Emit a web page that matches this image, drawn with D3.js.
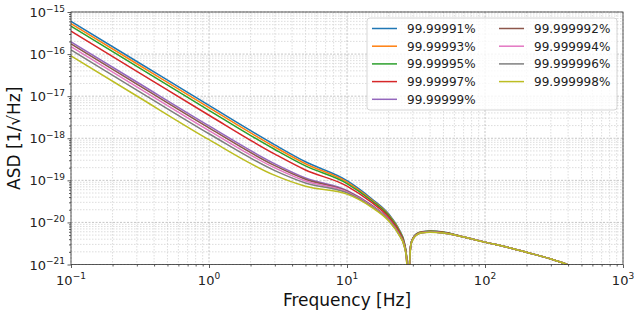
<!DOCTYPE html>
<html lang="en">
<head>
  <meta charset="UTF-8">
  <title>ASD vs Frequency</title>
  <script src="https://d3js.org/d3.v7.min.js"></script>
  <style>
    body { margin: 0; background: #fff; }
    svg { display: block; font-family: "DejaVu Sans", sans-serif; }
  </style>
</head>
<body>
  <div id="chart"></div>

  <script>
    // Data
    const freqs = [0.1, 0.3, 1, 3, 5, 10, 15, 20, 24, 26, 27, 27.8, 28.5, 29, 30, 32, 35, 40, 50, 70, 100, 150, 200, 300, 400, 600];

    const labels = ['99.99991%', '99.99993%', '99.99995%', '99.99997%', '99.99999%',
                    '99.999992%', '99.999994%', '99.999996%', '99.999998%'];

    const r91 = [6.0e-16, 6.67e-17, 6.02e-18, 6.97e-19, 2.76e-19, 9.8e-20, 3.70e-20, 1.6e-20, 6.58e-21, 3.40e-21, 1.63e-21, 1.5e-22, 1.40e-21, 3.02e-21, 4.20e-21, 5.39e-21, 6.04e-21, 6.25e-21, 5.93e-21, 4.5e-21, 3.4e-21, 2.5e-21, 1.95e-21, 1.35e-21, 9.8e-22, 5e-22];
    const r93 = [5.3e-16, 5.89e-17, 5.32e-18, 6.19e-19, 2.48e-19, 9.1e-20, 3.50e-20, 1.53e-20, 6.34e-21, 3.30e-21, 1.59e-21, 1.5e-22, 1.39e-21, 2.99e-21, 4.17e-21, 5.35e-21, 5.99e-21, 6.20e-21, 5.88e-21, 4.5e-21, 3.4e-21, 2.5e-21, 1.95e-21, 1.35e-21, 9.8e-22, 5e-22];
    const r95 = [4.6e-16, 5.11e-17, 4.62e-18, 5.41e-19, 2.20e-19, 8.4e-20, 3.32e-20, 1.46e-20, 6.10e-21, 3.21e-21, 1.55e-21, 1.5e-22, 1.38e-21, 2.97e-21, 4.13e-21, 5.30e-21, 5.94e-21, 6.15e-21, 5.83e-21, 4.5e-21, 3.4e-21, 2.5e-21, 1.95e-21, 1.35e-21, 9.8e-22, 5e-22];
    const r97 = [3.5e-16, 3.89e-17, 3.52e-18, 4.19e-19, 1.76e-19, 7.3e-20, 3.02e-20, 1.35e-20, 5.71e-21, 3.07e-21, 1.49e-21, 1.5e-22, 1.36e-21, 2.93e-21, 4.08e-21, 5.23e-21, 5.86e-21, 6.07e-21, 5.75e-21, 4.5e-21, 3.4e-21, 2.5e-21, 1.95e-21, 1.35e-21, 9.8e-22, 5e-22];
    const r99 = [1.95e-16, 2.17e-17, 1.97e-18, 2.47e-19, 1.14e-19, 5.75e-20, 2.60e-20, 1.20e-20, 5.18e-21, 2.86e-21, 1.41e-21, 1.5e-22, 1.33e-21, 2.87e-21, 4.00e-21, 5.13e-21, 5.74e-21, 5.95e-21, 5.64e-21, 4.5e-21, 3.4e-21, 2.5e-21, 1.95e-21, 1.35e-21, 9.8e-22, 5e-22];
    const r992 = [1.74e-16, 1.93e-17, 1.76e-18, 2.23e-19, 1.06e-19, 5.54e-20, 2.55e-20, 1.17e-20, 5.10e-21, 2.83e-21, 1.40e-21, 1.5e-22, 1.33e-21, 2.86e-21, 3.99e-21, 5.12e-21, 5.73e-21, 5.93e-21, 5.63e-21, 4.5e-21, 3.4e-21, 2.5e-21, 1.95e-21, 1.35e-21, 9.8e-22, 5e-22];
    const r994 = [1.5e-16, 1.67e-17, 1.52e-18, 1.97e-19, 9.6e-20, 5.3e-20, 2.48e-20, 1.15e-20, 5.02e-21, 2.80e-21, 1.38e-21, 1.5e-22, 1.33e-21, 2.86e-21, 3.98e-21, 5.10e-21, 5.71e-21, 5.92e-21, 5.61e-21, 4.5e-21, 3.4e-21, 2.5e-21, 1.95e-21, 1.35e-21, 9.8e-22, 5e-22];
    const r996 = [1.26e-16, 1.40e-17, 1.28e-18, 1.70e-19, 8.64e-20, 5.06e-20, 2.42e-20, 1.13e-20, 4.94e-21, 2.77e-21, 1.37e-21, 1.5e-22, 1.32e-21, 2.84e-21, 3.96e-21, 5.08e-21, 5.69e-21, 5.89e-21, 5.59e-21, 4.5e-21, 3.4e-21, 2.5e-21, 1.95e-21, 1.35e-21, 9.8e-22, 5e-22];
    const r998 = [9.1e-17, 1.01e-17, 9.25e-19, 1.31e-19, 7.24e-20, 4.71e-20, 2.32e-20, 1.09e-20, 4.82e-21, 2.72e-21, 1.35e-21, 1.5e-22, 1.32e-21, 2.83e-21, 3.95e-21, 5.06e-21, 5.67e-21, 5.87e-21, 5.57e-21, 4.5e-21, 3.4e-21, 2.5e-21, 1.95e-21, 1.35e-21, 9.8e-22, 5e-22];

    const seriesValues = [r91, r93, r95, r97, r99, r992, r994, r996, r998];
    const colors = ['#1f77b4', '#ff7f0e', '#2ca02c', '#d62728', '#9467bd',
                    '#8c564b', '#e377c2', '#7f7f7f', '#bcbd22'];

    const xExps = [-1, 0, 1, 2, 3];
    const yExps = [-21, -20, -19, -18, -17, -16, -15];

    // Dimensions
    const width = 634, height = 317;
    const margin = { top: 12, right: 11, bottom: 52.5, left: 71 };
    const innerWidth = width - margin.left - margin.right;
    const innerHeight = height - margin.top - margin.bottom;

    const svg = d3.select('#chart').append('svg')
      .attr('width', width)
      .attr('height', height);

    const g = svg.append('g')
      .attr('transform', `translate(${margin.left},${margin.top})`);

    const x = d3.scaleLog().domain([1e-1, 1e3]).range([0, innerWidth]);
    const y = d3.scaleLog().domain([1e-21, 1e-15]).range([innerHeight, 0]);

    // minor tick values
    const minors = (lo, hi) => {
      const out = [];
      for (let e = lo; e < hi; e++) {
        for (let k = 2; k <= 9; k++) out.push(k * Math.pow(10, e));
      }
      return out;
    };
    const xMinor = minors(-1, 3);
    const yMinor = minors(-21, -15);
    const xMajor = xExps.map(e => Math.pow(10, e));
    const yMajor = yExps.map(e => Math.pow(10, e));

    // Grid
    const grid = g.append('g');
    grid.selectAll('.vmin').data(xMinor).join('line')
      .attr('x1', d => x(d)).attr('x2', d => x(d))
      .attr('y1', 0).attr('y2', innerHeight)
      .attr('stroke', '#d4d4d4').attr('stroke-width', 0.8).attr('stroke-dasharray', '1.5,1.5');
    grid.selectAll('.hmin').data(yMinor).join('line')
      .attr('x1', 0).attr('x2', innerWidth)
      .attr('y1', d => y(d)).attr('y2', d => y(d))
      .attr('stroke', '#d4d4d4').attr('stroke-width', 0.8).attr('stroke-dasharray', '1.5,1.5');
    grid.selectAll('.vmaj').data(xMajor).join('line')
      .attr('x1', d => x(d)).attr('x2', d => x(d))
      .attr('y1', 0).attr('y2', innerHeight)
      .attr('stroke', '#b8b8b8').attr('stroke-width', 0.8).attr('stroke-dasharray', '2,1.5');
    grid.selectAll('.hmaj').data(yMajor).join('line')
      .attr('x1', 0).attr('x2', innerWidth)
      .attr('y1', d => y(d)).attr('y2', d => y(d))
      .attr('stroke', '#b8b8b8').attr('stroke-width', 0.8).attr('stroke-dasharray', '2,1.5');

    // Clip
    svg.append('defs').append('clipPath').attr('id', 'clip')
      .append('rect').attr('width', innerWidth).attr('height', innerHeight);

    const line = d3.line()
      .x(d => x(d[0]))
      .y(d => y(d[1]))
      .curve(d3.curveMonotoneX);

    g.append('g').attr('clip-path', 'url(#clip)')
      .selectAll('path')
      .data(seriesValues)
      .join('path')
      .attr('fill', 'none')
      .attr('stroke', (d, i) => colors[i])
      .attr('stroke-width', 1.5)
      .attr('d', vals => line(vals.map((v, j) => [freqs[j], v])));

    // Axes
    const xAxis = g.append('g').attr('transform', `translate(0,${innerHeight})`);
    xAxis.call(d3.axisBottom(x).tickValues(xMajor).tickSize(3.5).tickFormat(''));
    xAxis.append('g').call(d3.axisBottom(x).tickValues(xMinor).tickSize(2).tickFormat(''));
    const yAxis = g.append('g');
    yAxis.call(d3.axisLeft(y).tickValues(yMajor).tickSize(3.5).tickFormat(''));
    yAxis.append('g').call(d3.axisLeft(y).tickValues(yMinor).tickSize(2).tickFormat(''));
    g.selectAll('.domain').attr('stroke', 'none');
    g.selectAll('.tick line').attr('stroke', '#333').attr('stroke-width', 0.8);

    // Frame
    g.append('rect')
      .attr('width', innerWidth).attr('height', innerHeight)
      .attr('fill', 'none').attr('stroke', '#333').attr('stroke-width', 0.8);

    // Tick labels (10^n)
    const expText = e => (e < 0 ? '\u2212' + Math.abs(e) : String(e));
    xExps.forEach(e => {
      const t = g.append('text')
        .attr('x', x(Math.pow(10, e)))
        .attr('y', innerHeight + 20)
        .attr('text-anchor', 'middle')
        .attr('font-size', 13)
        .attr('fill', '#222');
      t.append('tspan').text('10');
      t.append('tspan').attr('dy', -5.5).attr('font-size', 9).text(expText(e));
    });
    yExps.forEach(e => {
      const t = g.append('text')
        .attr('x', -6)
        .attr('y', y(Math.pow(10, e)) + 5)
        .attr('text-anchor', 'end')
        .attr('font-size', 13)
        .attr('fill', '#222');
      t.append('tspan').text('10');
      t.append('tspan').attr('dy', -5.5).attr('font-size', 9).text(expText(e));
    });

    // Axis labels
    svg.append('text')
      .attr('x', margin.left + innerWidth / 2)
      .attr('y', 306)
      .attr('text-anchor', 'middle')
      .attr('font-size', 17)
      .attr('fill', '#111')
      .text('Frequency [Hz]');
    svg.append('text')
      .attr('transform', `translate(20,${margin.top + innerHeight / 2}) rotate(-90)`)
      .attr('text-anchor', 'middle')
      .attr('font-size', 17)
      .attr('fill', '#111')
      .text('ASD [1/\u221AHz]');

    // Legend
    const legend = svg.append('g').attr('transform', 'translate(367,18)');
    legend.append('rect')
      .attr('width', 250).attr('height', 92)
      .attr('rx', 3)
      .attr('fill', 'rgba(255,255,255,0.8)')
      .attr('stroke', '#ccc').attr('stroke-width', 0.8);
    labels.forEach((lab, i) => {
      const col = i < 5 ? 0 : 1;
      const row = i < 5 ? i : i - 5;
      const ox = col === 0 ? 5 : 132;
      const oy = 10.5 + row * 17.7;
      legend.append('line')
        .attr('x1', ox).attr('x2', ox + 25)
        .attr('y1', oy).attr('y2', oy)
        .attr('stroke', colors[i]).attr('stroke-width', 1.5);
      legend.append('text')
        .attr('x', ox + 35).attr('y', oy + 4.3)
        .attr('font-size', 12)
        .attr('fill', '#222')
        .text(lab);
    });
  </script>
</body>
</html>
